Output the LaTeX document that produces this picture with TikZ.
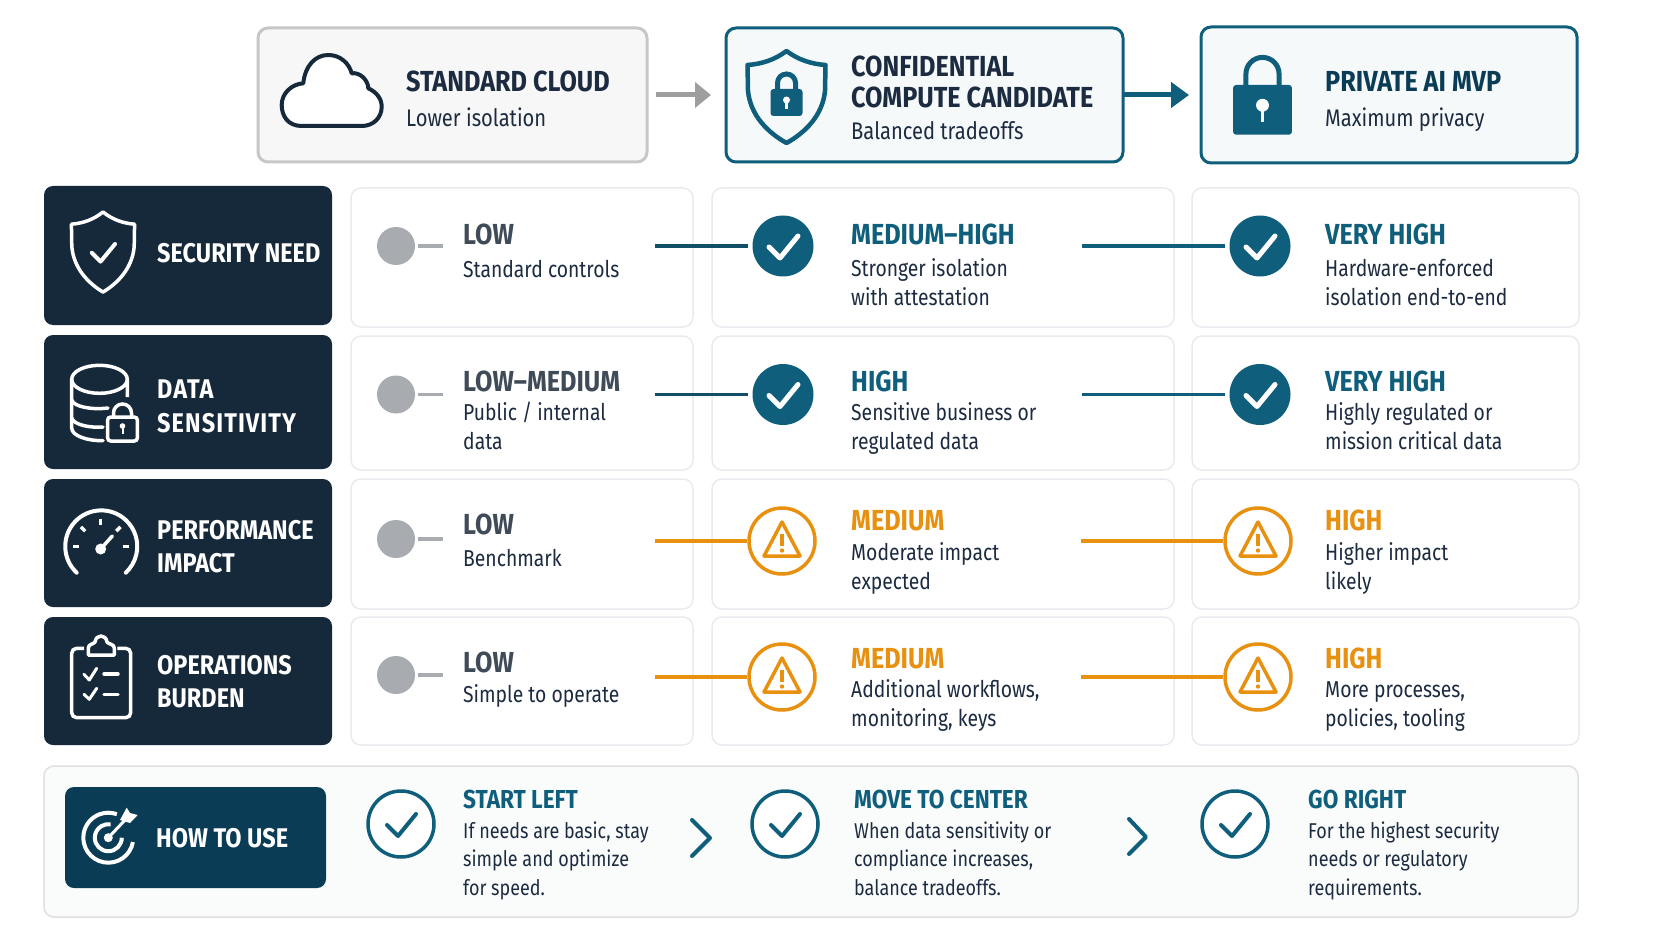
\documentclass[tikz,border=0pt]{standalone}
\usepackage{fontspec}
\usetikzlibrary{arrows.meta}
\newfontfamily\headfont[FakeStretch=0.87]{Fira Sans}
\newfontfamily\bodyfont[FakeStretch=0.84]{Fira Sans}
\definecolor{navy}{HTML}{16293A}
\definecolor{petrol}{HTML}{0A3D55}
\definecolor{teal}{HTML}{0F5F7C}
\definecolor{amber}{HTML}{E8900F}
\definecolor{ink}{HTML}{1C2B40}
\definecolor{slate}{HTML}{3F4B58}
\definecolor{dotgrey}{HTML}{A8ACB0}
\definecolor{cellline}{HTML}{E9EBEF}
\tikzset{
  topbox/.style={draw, rectangle, rounded corners=10pt, line width=3pt, anchor=north west, inner sep=0pt, outer sep=0pt},
  rowbox/.style={rectangle, fill=navy, rounded corners=9pt, anchor=north west, inner sep=0pt, outer sep=0pt},
  cellbox/.style={draw=cellline, fill=white, rectangle, rounded corners=10pt, line width=1.5pt, anchor=north west, inner sep=0pt, outer sep=0pt},
  toptitle/.style={anchor=base west, inner sep=0pt, align=left, text=ink, font=\headfont\bfseries\fontsize{29}{31}\selectfont},
  topnote/.style={anchor=base west, inner sep=0pt, text=ink, font=\bodyfont\fontsize{24}{28}\selectfont},
  rowtitle/.style={anchor=base west, inner sep=0pt, align=left, text=white, font=\headfont\bfseries\fontsize{27}{33}\selectfont},
  level/.style={anchor=base west, inner sep=0pt, font=\headfont\bfseries\fontsize{29}{33}\selectfont},
  note/.style={anchor=base west, inner sep=0pt, align=left, text=ink, font=\bodyfont\fontsize{23}{28.5}\selectfont},
  stepnote/.style={note, font=\bodyfont\fontsize{21.4}{28.5}\selectfont},
  stephead/.style={anchor=base west, inner sep=0pt, text=teal, font=\headfont\bfseries\fontsize{26}{30}\selectfont},
  lowdot/.style={circle, fill=dotgrey, minimum size=38pt, inner sep=0pt, outer sep=3pt},
  okdot/.style={circle, fill=teal, minimum size=61pt, inner sep=0pt, outer sep=5pt},
  warndot/.style={circle, draw=amber, fill=white, line width=3.5pt, minimum size=66pt, inner sep=0pt},
  stepdot/.style={circle, draw=teal, fill=white, line width=3.5pt, minimum size=66pt, inner sep=0pt},
  stub/.style={draw=dotgrey, line width=3.5pt},
  linkdark/.style={draw=teal!70!navy, line width=3.5pt},
  linkteal/.style={draw=teal, line width=3.5pt},
  linkamber/.style={draw=amber, line width=3.5pt},
  tick/.pic={\draw[pic actions, line cap=round, line join=round] (-14,1) -- (-3,12) -- (15,-10);},
  warnsign/.pic={
    \draw[amber, line width=3.5pt, line join=round] (0,-19) -- (18,15) -- (-18,15) -- cycle;
    \draw[amber, line width=3.5pt] (0,-7) -- (0,5);
    \fill[amber] (0,9.5) circle (2.2);
  },
  padlock/.pic={
    \draw[teal, line width=5pt] (-9,1) -- (-9,-6) arc[start angle=180, end angle=360, radius=9] -- (9,1);
    \fill[teal, rounded corners=3pt] (-16,0) rectangle (16,27);
    \fill[white] (0,11) circle (3.5);
    \draw[white, line width=2.6pt] (0,11) -- (0,20);
  },
  guard/.pic={\draw[pic actions, line join=round] (0,0) .. controls (-12,9) and (-25,13) .. (-39,14) -- (-38.5,40) .. controls (-36,65) and (-18,82) .. (0,92) .. controls (18,82) and (36,65) .. (38.5,40) -- (39,14) .. controls (25,13) and (12,9) .. (0,0) -- cycle;},
}
\begin{document}
\begin{tikzpicture}[x=1pt, y=1pt, yscale=-1, every pic/.style={yscale=-1}]
    \useasboundingbox[fill=white] (0,0) rectangle (1672,941);

    % top row
    \node[topbox, draw=black!22, fill=black!3, minimum width=389pt, minimum height=134pt] (cloud) at (258,28) {};
    \node[topbox, draw=teal, fill=teal!4, minimum width=397pt, minimum height=134pt] (conf) at (726,28) {};
    \node[topbox, draw=teal, fill=teal!4, minimum width=376pt, minimum height=136pt] (private) at (1201,27) {};
    \draw[-{Triangle[length=16pt,width=25pt]}, black!38, line width=5pt, shorten <=9pt, shorten >=15pt] (cloud) -- (conf);
    \draw[-{Triangle[length=18pt,width=25pt]}, teal, line width=5pt, shorten >=12pt] (conf) -- (private);
    \draw[navy, fill=white, line width=4pt, line join=round] (301.7,126) .. controls (288,126) and (281.7,116) .. (281.7,105) .. controls (281.7,93) and (292,84) .. (303.3,83.3) .. controls (305,66) and (315,55) .. (328.3,55) .. controls (340,55) and (349,63) .. (351.7,73.3) .. controls (360,72) and (368,80) .. (368.3,88.3) .. controls (376,92) and (381.7,98) .. (381.7,106.7) .. controls (381.7,118) and (373,126) .. (361.7,126) -- cycle;
    \node[toptitle] (cloudt) at (406,92) {STANDARD CLOUD};
    \node[topnote] (cloudn) at (406,127) {Lower isolation};
    \pic[draw=teal, line width=4.5pt] at (786.5,51) {guard};
    \pic at (786.5,89) {padlock};
    \node[toptitle] (conft) at (851,108) {CONFIDENTIAL\\COMPUTE CANDIDATE};
    \node[topnote] (confn) at (851,140) {Balanced tradeoffs};
    \pic[scale=1.84] at (1262.5,85) {padlock};
    \node[toptitle, text=petrol] (privatet) at (1325,92) {PRIVATE AI MVP};
    \node[topnote] (privaten) at (1325,127) {Maximum privacy};

    % row boxes on the left
    \node[rowbox, minimum width=288pt, minimum height=139pt] (sec) at (44,186) {};
    \node[rowbox, minimum width=288pt, minimum height=134pt] (data) at (44,335) {};
    \node[rowbox, minimum width=288pt, minimum height=128pt] (perf) at (44,479) {};
    \node[rowbox, minimum width=288pt, minimum height=128pt] (ops) at (44,617) {};
    \node[rowtitle] (sect) at (157,262) {SECURITY NEED};
    \node[rowtitle, font=\headfont\bfseries\addfontfeature{LetterSpace=4}\fontsize{27}{34}\selectfont] (datat) at (157,432) {DATA\\SENSITIVITY};
    \node[rowtitle] (perft) at (157,572) {PERFORMANCE\\IMPACT};
    \node[rowtitle] (opst) at (157,707) {OPERATIONS\\BURDEN};

    % icons of the row boxes
    \pic[draw=white, line width=3.5pt, xscale=0.81, yscale=0.87] at (103,212) {guard};
    \pic[draw=white, line width=4pt, scale=0.8] at (103,252) {tick};
    \draw[white, line width=3.5pt] (127.3,397) -- (127.3,379.3) arc[start angle=0, end angle=360, x radius=27.8, y radius=14];
    \draw[white, line width=3.5pt, line cap=round] (71.7,379.3) -- (71.7,428) .. controls (71.7,436) and (88,441) .. (103,440.7);
    \draw[white, line width=3.5pt, line cap=round] (71.7,400) .. controls (74,407) and (92,410) .. (108,408);
    \draw[white, line width=3.5pt, line cap=round] (71.7,418) .. controls (74,425) and (90,428) .. (103,427);
    \draw[white, line width=3.5pt, rounded corners=3pt] (107.7,417) rectangle (137.3,441);
    \draw[white, line width=3.5pt] (113.5,417) -- (113.5,413) arc[start angle=180, end angle=360, radius=9] -- (131.5,417);
    \fill[white] (122.5,426) circle (2.8);
    \draw[white, line width=2pt] (122.5,426) -- (122.5,434);
    \draw[white, line width=4pt, line cap=round] (76.7,572.7) arc[start angle=133, end angle=407, radius=36];
    \foreach \ang in {180,225,270,315,360}
        \draw[white, line width=3.5pt] (100.7,546.7) ++(\ang:22) -- ++(\ang:6);
    \fill[white] (100.7,549) circle (5.5);
    \draw[white, line width=3.5pt, line cap=round] (100.7,549) -- (112.3,536);
    \draw[white, line width=3.5pt, rounded corners=5pt] (84,648.3) -- (71.7,648.3) -- (71.7,717.7) -- (130.7,717.7) -- (130.7,648.3) -- (117.3,648.3);
    \draw[white, line width=3.5pt, line join=round] (88.3,655) -- (114.3,655) -- (114.3,648) .. controls (114.3,644) and (108,644) .. (107,642) .. controls (106,634) and (96,634) .. (95,642) .. controls (94,644) and (88.3,644) .. (88.3,648) -- cycle;
    \draw[white, line width=3pt, line cap=round, line join=round] (84,674.3) -- (89.3,680) -- (96.7,668.3);
    \draw[white, line width=3pt, line cap=round, line join=round] (84,694.3) -- (89.3,699.3) -- (96.7,688.3);
    \draw[white, line width=3.5pt, line cap=round] (104,674) -- (118,674);
    \draw[white, line width=3.5pt, line cap=round] (104,694.3) -- (118,694.3);

    % cells, three columns
    \node[cellbox, minimum width=342pt, minimum height=139pt] (c11) at (351,188) {};
    \node[cellbox, minimum width=462pt, minimum height=139pt] (c12) at (712,188) {};
    \node[cellbox, minimum width=387pt, minimum height=139pt] (c13) at (1192,188) {};
    \node[cellbox, minimum width=342pt, minimum height=134pt] (c21) at (351,336) {};
    \node[cellbox, minimum width=462pt, minimum height=134pt] (c22) at (712,336) {};
    \node[cellbox, minimum width=387pt, minimum height=134pt] (c23) at (1192,336) {};
    \node[cellbox, minimum width=342pt, minimum height=130pt] (c31) at (351,479) {};
    \node[cellbox, minimum width=462pt, minimum height=130pt] (c32) at (712,479) {};
    \node[cellbox, minimum width=387pt, minimum height=130pt] (c33) at (1192,479) {};
    \node[cellbox, minimum width=342pt, minimum height=128pt] (c41) at (351,617) {};
    \node[cellbox, minimum width=462pt, minimum height=128pt] (c42) at (712,617) {};
    \node[cellbox, minimum width=387pt, minimum height=128pt] (c43) at (1192,617) {};

    % dots and links
    \foreach \nam/\yy in {a/246,b/394.5}{
        \node[lowdot] (low\nam) at (396,\yy) {};
        \coordinate (lowe\nam) at (443,\yy);
        \draw[stub] (low\nam) -- (lowe\nam);
        \coordinate (mids\nam) at (655,\yy);
        \coordinate (highs\nam) at (1082,\yy);
        \node[okdot] (mid\nam) at (783,\yy) {};
        \node[okdot] (high\nam) at (1260,\yy) {};
        \draw[linkdark] (mids\nam) -- (mid\nam);
        \draw[linkteal] (highs\nam) -- (high\nam);
        \pic[draw=white, line width=5pt] at (mid\nam) {tick};
        \pic[draw=white, line width=5pt] at (high\nam) {tick};
    }
    \foreach \nam/\yy/\yd in {c/541/539,d/677/675}{
        \node[lowdot] (low\nam) at (396,\yd) {};
        \coordinate (lowe\nam) at (443,\yd);
        \draw[stub] (low\nam) -- (lowe\nam);
        \coordinate (mids\nam) at (655,\yy);
        \coordinate (highs\nam) at (1081,\yy);
        \node[warndot] (mid\nam) at (782,\yy) {};
        \node[warndot] (high\nam) at (1258,\yy) {};
        \draw[linkamber] (mids\nam) -- (mid\nam);
        \draw[linkamber] (highs\nam) -- (high\nam);
        \pic at (mid\nam) {warnsign};
        \pic at (high\nam) {warnsign};
    }

    % cell texts
    \node[level, text=slate] (t11) at (463,244) {LOW};
    \node[note] (n11) at (463,277) {Standard controls};
    \node[level, text=teal] (t12) at (851,244) {MEDIUM–HIGH};
    \node[note] (n12) at (851,305) {Stronger isolation\\with attestation};
    \node[level, text=teal] (t13) at (1325,244) {VERY HIGH};
    \node[note] (n13) at (1325,305) {Hardware-enforced\\isolation end-to-end};
    \node[level, text=slate] (t21) at (463,391) {LOW–MEDIUM};
    \node[note] (n21) at (463,449) {Public / internal\\data};
    \node[level, text=teal] (t22) at (851,391) {HIGH};
    \node[note] (n22) at (851,449) {Sensitive business or\\regulated data};
    \node[level, text=teal] (t23) at (1325,391) {VERY HIGH};
    \node[note] (n23) at (1325,449) {Highly regulated or\\mission critical data};
    \node[level, text=slate] (t31) at (463,534) {LOW};
    \node[note] (n31) at (463,566) {Benchmark};
    \node[level, text=amber] (t32) at (851,530) {MEDIUM};
    \node[note] (n32) at (851,589) {Moderate impact\\expected};
    \node[level, text=amber] (t33) at (1325,530) {HIGH};
    \node[note] (n33) at (1325,589) {Higher impact\\likely};
    \node[level, text=slate] (t41) at (463,672) {LOW};
    \node[note] (n41) at (463,702) {Simple to operate};
    \node[level, text=amber] (t42) at (851,668) {MEDIUM};
    \node[note] (n42) at (851,726) {Additional workflows,\\monitoring, keys};
    \node[level, text=amber] (t43) at (1325,668) {HIGH};
    \node[note] (n43) at (1325,726) {More processes,\\policies, tooling};

    % how to use panel
    \node[cellbox, draw=black!12, fill=teal!2, minimum width=1534pt, minimum height=151pt] (how) at (44,766) {};
    \node[rowbox, fill=petrol, minimum width=261pt, minimum height=101pt] (howbtn) at (65,787) {};
    \node[rowtitle] (howt) at (156,847) {HOW TO USE};
    \draw[white, line width=4pt] (108.3,837.7) ++(10:25) arc[start angle=10, end angle=290, radius=25];
    \draw[white, line width=4pt] (108.3,837.7) ++(0:13.5) arc[start angle=0, end angle=280, radius=13.5];
    \fill[white] (108.3,837.7) circle (4.5);
    \draw[white, line width=3pt] (108.3,837.7) -- (127,818);
    \fill[white] (120,820) -- (126.7,807.7) -- (130,813) -- (137.7,815) -- (130,823) -- cycle;
    \node[stepdot] (stepa) at (401,824) {};
    \node[stepdot] (stepb) at (785,824) {};
    \node[stepdot] (stepc) at (1235,824) {};
    \pic[draw=teal, line width=4pt] at (stepa) {tick};
    \pic[draw=teal, line width=4pt] at (stepb) {tick};
    \pic[draw=teal, line width=4pt] at (stepc) {tick};
    \draw[teal, line width=4pt, line cap=round, line join=round] (692,820) -- (710,838) -- (692,856);
    \draw[teal, line width=4pt, line cap=round, line join=round] (1129,819) -- (1146,837) -- (1129,854);
    \node[stephead] (sa) at (463,808) {START LEFT};
    \node[stepnote] (na) at (463,895) {If needs are basic, stay\\simple and optimize\\for speed.};
    \node[stephead] (sb) at (854,808) {MOVE TO CENTER};
    \node[stepnote] (nb) at (854,895) {When data sensitivity or\\compliance increases,\\balance tradeoffs.};
    \node[stephead] (sc) at (1308,808) {GO RIGHT};
    \node[stepnote] (nc) at (1308,895) {For the highest security\\needs or regulatory\\requirements.};
\end{tikzpicture}
\end{document}
